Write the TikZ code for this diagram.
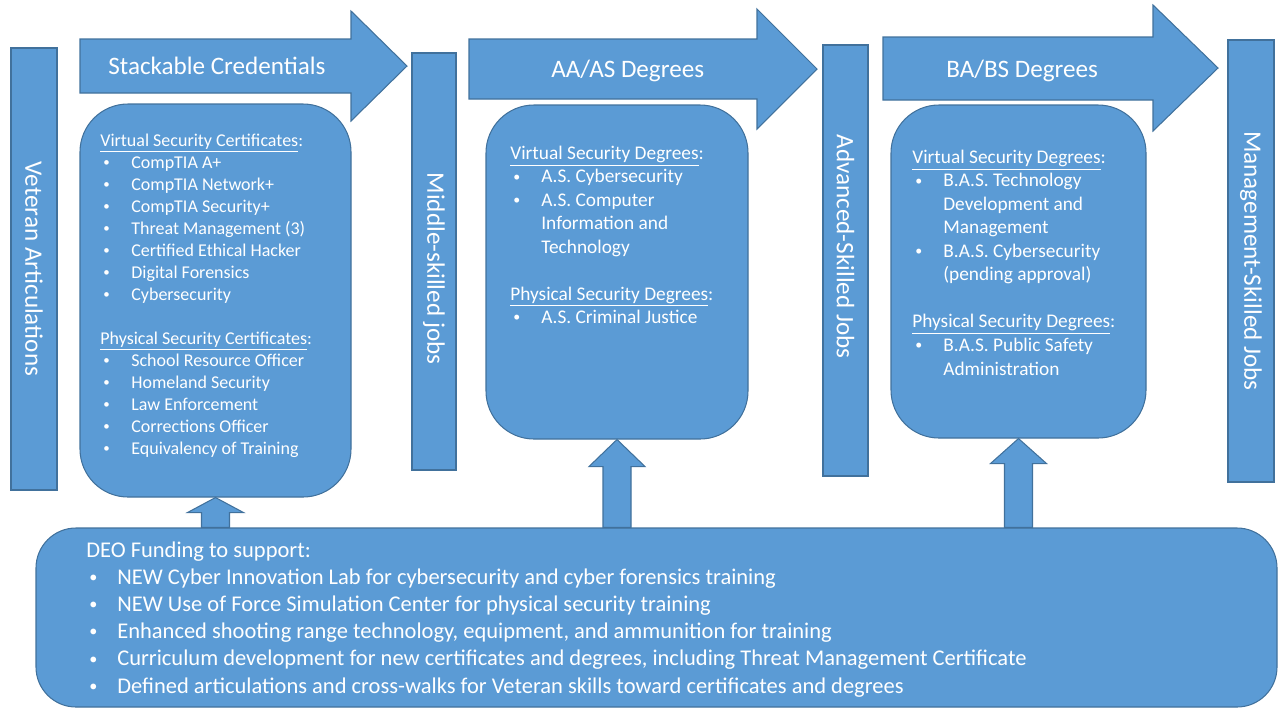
\documentclass[tikz,border=0pt]{standalone}
\usepackage{fontspec}
\setmainfont{Carlito}
\usetikzlibrary{calc, fit}
\definecolor{pathblue}{RGB}{91, 155, 213}
\definecolor{pathedge}{RGB}{65, 113, 156}

% bullet item and its continuation line
\newcommand{\bul}[1]{\makebox[0.62cm][l]{\hspace{0.06cm}\raisebox{0.08em}{\scalebox{0.72}{\textbullet}}}#1}
\newcommand{\cont}[1]{\hspace*{0.62cm}#1}

\tikzset{
    blockshape/.style={draw=pathedge, fill=pathblue, line width=0.6pt},
    roundbox/.style={blockshape, rounded corners=0.96cm, inner sep=0pt},
    barbox/.style={blockshape, inner sep=0pt},
    vlabel/.style={text=white, rotate=-90, inner sep=0pt, font=\fontsize{14.3}{17}\selectfont},
    headlabel/.style={text=white, anchor=base west, inner sep=0pt, font=\fontsize{14.3}{17}\selectfont},
    listtxt/.style={text=white, anchor=base west, inner sep=0pt, align=left},
}

\begin{document}
\begin{tikzpicture}[x=0.02cm, y=-0.02cm]
    \useasboundingbox (0,0) rectangle (1278,708);

    % Job level bars
    \node[barbox, fit={(11,48) (57,490)}] (vet) {};
    \node[barbox, fit={(412,53) (456,470)}] (mid) {};
    \node[barbox, fit={(823,45) (868,476)}] (adv) {};
    \node[barbox, fit={(1228,40) (1274,482)}] (mgmt) {};
    \node[vlabel] (vettxt) at (vet.center) {Veteran Articulations};
    \node[vlabel] (midtxt) at ($(mid.center)+(0,7)$) {Middle-skilled jobs};
    \node[vlabel] (advtxt) at ($(adv.center)+(0,-14)$) {Advanced-Skilled Jobs};
    \node[vlabel] (mgmttxt) at (mgmt.center) {Management-Skilled Jobs};

    % Pathway arrows
    \draw[blockshape] (80,39) -- (351,39) -- (351,11) -- (407,66) -- (351,121) -- (351,93) -- (80,93) -- cycle;
    \node[headlabel] (stackhead) at (108,74) {Stackable Credentials};
    \draw[blockshape] (469,39) -- (757,39) -- (757,9) -- (817,69) -- (757,129) -- (757,99) -- (469,99) -- cycle;
    \node[headlabel] (aahead) at (551,77) {AA/AS Degrees};
    \draw[blockshape] (883,37) -- (1153,37) -- (1153,5) -- (1218,68) -- (1153,131) -- (1153,100) -- (883,100) -- cycle;
    \node[headlabel] (bahead) at (946,77) {BA/BS Degrees};

    % Program boxes (text nodes sit on the baseline of their last line)
    \node[roundbox, fit={(80,104) (351,497)}] (certbox) {};
    \node[roundbox, fit={(486,105) (748,439)}] (aabox) {};
    \node[roundbox, fit={(891,105) (1146,438)}] (babox) {};

    \node[listtxt, font=\fontsize{10.24}{12.52}\selectfont] (certtxt) at (100,454) {%
        \underline{Virtual Security Certificates}:\\
        \bul{CompTIA A+}\\
        \bul{CompTIA Network+}\\
        \bul{CompTIA Security+}\\
        \bul{Threat Management (3)}\\
        \bul{Certified Ethical Hacker}\\
        \bul{Digital Forensics}\\
        \bul{Cybersecurity}\\[12.52pt]
        \underline{Physical Security Certificates}:\\
        \bul{School Resource Officer}\\
        \bul{Homeland Security}\\
        \bul{Law Enforcement}\\
        \bul{Corrections Officer}\\
        \bul{Equivalency of Training}};

    \node[listtxt, font=\fontsize{11}{13.37}\selectfont] (aatxt) at (510,323.5) {%
        \underline{Virtual Security Degrees}:\\
        \bul{A.S. Cybersecurity}\\
        \bul{A.S. Computer}\\
        \cont{Information and}\\
        \cont{Technology}\\[13.37pt]
        \underline{Physical Security Degrees}:\\
        \bul{A.S. Criminal Justice}};

    \node[listtxt, font=\fontsize{11}{13.4}\selectfont] (batxt) at (912,375) {%
        \underline{Virtual Security Degrees}:\\
        \bul{B.A.S. Technology}\\
        \cont{Development and}\\
        \cont{Management}\\
        \bul{B.A.S. Cybersecurity}\\
        \cont{(pending approval)}\\[13.4pt]
        \underline{Physical Security Degrees}:\\
        \bul{B.A.S. Public Safety}\\
        \cont{Administration}};

    % Funding box
    \node[blockshape, rounded corners=0.8cm, inner sep=0pt, fit={(36,528) (1277,707)}] (fund) {};
    \node[listtxt, font=\fontsize{12.8}{15.45}\selectfont] (fundtxt) at (86,693) {%
        DEO Funding to support:\\
        \bul{NEW Cyber Innovation Lab for cybersecurity and cyber forensics training}\\
        \bul{NEW Use of Force Simulation Center for physical security training}\\
        \bul{Enhanced shooting range technology, equipment, and ammunition for training}\\
        \bul{Curriculum development for new certificates and degrees, including Threat Management Certificate}\\
        \bul{Defined articulations and cross-walks for Veteran skills toward certificates and degrees}};

    % Funding feeds each program
    \draw[blockshape] (certbox.south) -- ++(28,15) -- ++(-14,0) -- ($(certbox.south |- fund.north)+(14,0)$)
        -- ($(certbox.south |- fund.north)+(-14,0)$) -- ($(certbox.south)+(-14,15)$) -- ++(-14,0) -- cycle;
    \draw[blockshape] (aabox.south) -- ++(28,27) -- ++(-14,0) -- ($(aabox.south |- fund.north)+(14,0)$)
        -- ($(aabox.south |- fund.north)+(-14,0)$) -- ($(aabox.south)+(-14,27)$) -- ++(-14,0) -- cycle;
    \draw[blockshape] (babox.south) -- ++(28,25) -- ++(-14,0) -- ($(babox.south |- fund.north)+(14,0)$)
        -- ($(babox.south |- fund.north)+(-14,0)$) -- ($(babox.south)+(-14,25)$) -- ++(-14,0) -- cycle;

\end{tikzpicture}
\end{document}
